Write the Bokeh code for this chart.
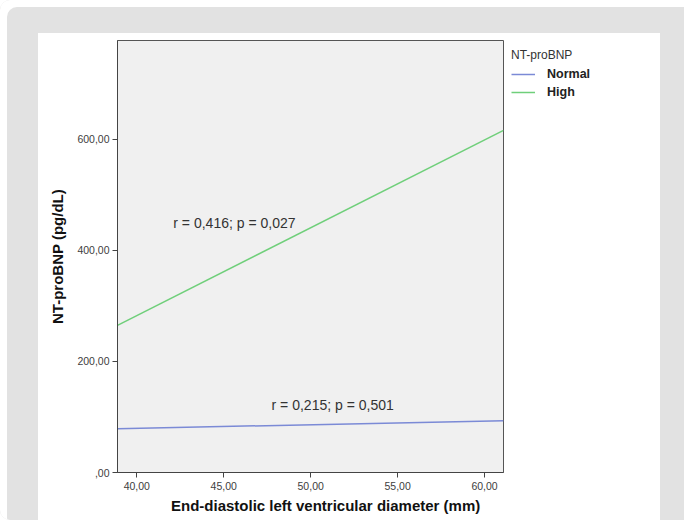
from bokeh.plotting import figure
from bokeh.models import Range1d, FixedTicker, Label, Legend, LegendItem, Title
from bokeh.embed import file_html
from bokeh.resources import INLINE

# ---------------- data ----------------
x_ticks = [40, 45, 50, 55, 60]
x_tick_labels = ["40,00", "45,00", "50,00", "55,00", "60,00"]
y_ticks = [0, 200, 400, 600]
y_tick_labels = [",00", "200,00", "400,00", "600,00"]
groups = ["Normal", "High"]
fit_x = [38.89, 61.09]
normal_y = [79, 93]
high_y = [265, 616]
stats_normal = "r = 0,215; p = 0,501"
stats_high = "r = 0,416; p = 0,027"
normal_stats_pos = (47.75, 121)
high_stats_pos = (42.1, 450)
x_title = "End-diastolic left ventricular diameter (mm)"
y_title = "NT-proBNP (pg/dL)"
legend_title = "NT-proBNP"

# ---------------- layout ----------------
FW, FH = 386, 432
BL, BR, BT, BB = 117, 181, 40, 48
X0, X1 = 38.89, 61.09
Y0, Y1 = 0, 778

FONT = "Liberation Sans"
colors = {"Normal": "#7b8ad6", "High": "#6fcf7a"}

p = figure(frame_width=FW, frame_height=FH, x_range=Range1d(X0, X1), y_range=Range1d(Y0, Y1),
           output_backend="svg", toolbar_location=None,
           min_border_left=BL, min_border_right=BR, min_border_top=BT, min_border_bottom=BB)
p.background_fill_color = "#f0f0f0"
p.border_fill_color = None
p.outline_line_color = "#555555"
p.outline_line_width = 1
p.grid.visible = False

# grey card + white panel behind the (transparent) border area
p.styles = {
    "background-color": "#e2e2e2",
    "background-image": "linear-gradient(#ffffff, #ffffff)",
    "background-position": "38px 33px",
    "background-size": "622px 500px",
    "background-repeat": "no-repeat",
    "box-shadow": "inset 7px 7px 0 0 #ffffff",
    "border-radius": "10px",
}

for ax in (p.xaxis, p.yaxis):
    ax.axis_line_color = "#444444"
    ax.major_tick_line_color = "#444444"
    ax.major_tick_out = 5
    ax.major_tick_in = 0
    ax.minor_tick_line_color = None
    ax.major_label_text_font = FONT
    ax.major_label_text_font_size = "10.5px"
    ax.major_label_text_color = "#404040"

p.xaxis.ticker = FixedTicker(ticks=x_ticks)
p.xaxis.major_label_overrides = dict(zip(x_ticks, x_tick_labels))
p.xaxis.major_label_standoff = 4
p.yaxis.ticker = FixedTicker(ticks=y_ticks)
p.yaxis.major_label_overrides = dict(zip(y_ticks, y_tick_labels))
p.yaxis.major_label_standoff = 3

p.yaxis.axis_label = y_title
p.yaxis.axis_label_text_font = FONT
p.yaxis.axis_label_text_font_size = "15px"
p.yaxis.axis_label_text_font_style = "bold"
p.yaxis.axis_label_text_color = "#111111"
p.yaxis.axis_label_standoff = 8

# x-axis title (placed a little right of the frame centre, as in the original)
x_title_width = 309
p.add_layout(Title(text=x_title, align="left", offset=325 - x_title_width / 2 - BL,
                   standoff=4, text_font=FONT, text_font_size="15px",
                   text_font_style="bold", text_color="#111111"), "below")

# fit lines
r_normal = p.line(fit_x, normal_y, line_color=colors["Normal"], line_width=1.5)
r_high = p.line(fit_x, high_y, line_color=colors["High"], line_width=1.5)

# stats annotations
for txt, (lx, ly) in ((stats_high, high_stats_pos), (stats_normal, normal_stats_pos)):
    p.add_layout(Label(x=lx, y=ly, text=txt, text_align="left", text_baseline="middle",
                       text_font=FONT, text_font_size="14px", text_color="#333333"))

# legend
legend = Legend(items=[LegendItem(label=g, renderers=[r]) for g, r in zip(groups, [r_normal, r_high])],
                title=legend_title, location="top_left", orientation="vertical",
                margin=1, padding=6, spacing=0, glyph_width=24, glyph_height=18,
                label_standoff=12, label_height=18, title_standoff=3,
                border_line_color="white", border_line_alpha=1,
                background_fill_color="white", background_fill_alpha=1,
                title_text_font=FONT, title_text_font_size="12px", title_text_font_style="normal",
                title_text_color="#333333",
                label_text_font=FONT, label_text_font_size="12.5px", label_text_font_style="bold",
                label_text_color="#222222")
p.add_layout(legend, "right")

open("out.html", "w").write(file_html(p, INLINE))
